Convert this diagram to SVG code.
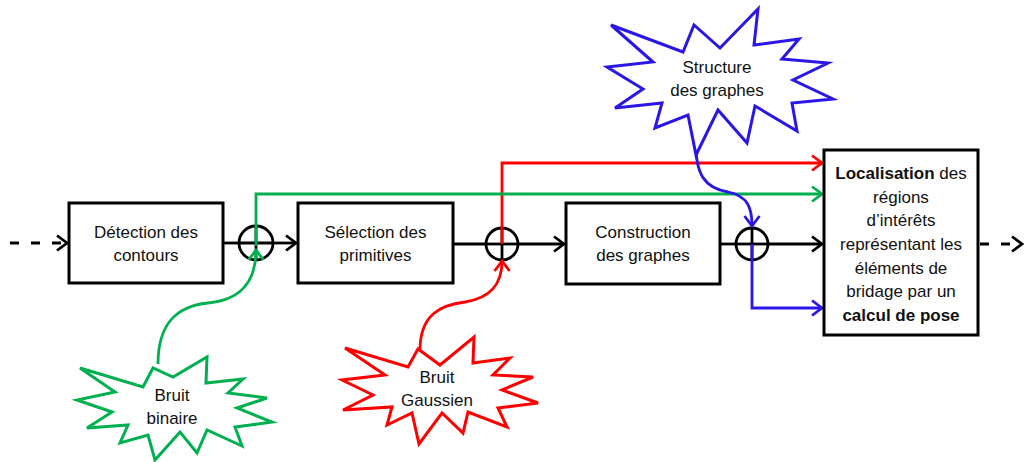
<svg xmlns="http://www.w3.org/2000/svg" width="1027" height="462" viewBox="0 0 1027 462">
<style>
.box{fill:#fff;stroke:#000;stroke-width:3}
.sum{fill:none;stroke:#000;stroke-width:2.8}
.txt{font-family:"Liberation Sans",Arial,sans-serif;font-size:17px;fill:#111;text-anchor:middle}
.blk{fill:none;stroke:#000;stroke-width:2.8}
.red{fill:none;stroke:#ff0000;stroke-width:2.8}
.grn{fill:none;stroke:#00b050;stroke-width:2.8}
.blu{fill:none;stroke:#2a16e6;stroke-width:2.8}
.dash{stroke-dasharray:9 12}
</style>
<defs>
<marker id="ak" markerUnits="userSpaceOnUse" markerWidth="16" markerHeight="18" refX="12" refY="9" orient="auto" viewBox="0 0 16 18"><path d="M2,1.5 L12,9 L2,16.5" fill="none" stroke="#000" stroke-width="2.8"/></marker>
<marker id="ar" markerUnits="userSpaceOnUse" markerWidth="16" markerHeight="18" refX="12" refY="9" orient="auto" viewBox="0 0 16 18"><path d="M2,1.5 L12,9 L2,16.5" fill="none" stroke="#ff0000" stroke-width="2.8"/></marker>
<marker id="ag" markerUnits="userSpaceOnUse" markerWidth="16" markerHeight="18" refX="12" refY="9" orient="auto" viewBox="0 0 16 18"><path d="M2,1.5 L12,9 L2,16.5" fill="none" stroke="#00b050" stroke-width="2.8"/></marker>
<marker id="ab" markerUnits="userSpaceOnUse" markerWidth="16" markerHeight="18" refX="12" refY="9" orient="auto" viewBox="0 0 16 18"><path d="M2,1.5 L12,9 L2,16.5" fill="none" stroke="#2a16e6" stroke-width="2.8"/></marker>
</defs>

<g id="connectors">
<line class="blk dash" x1="10" y1="243" x2="67" y2="243" marker-end="url(#ak)"/>
<line class="blk" x1="223" y1="243" x2="239" y2="243"/>
<line class="blk" x1="273" y1="243" x2="296" y2="243" marker-end="url(#ak)"/>
<line class="blk" x1="453" y1="244" x2="486" y2="244"/>
<line class="blk" x1="518" y1="244" x2="564" y2="244" marker-end="url(#ak)"/>
<line class="blk" x1="720" y1="244" x2="736" y2="244"/>
<line class="blk" x1="768" y1="244" x2="822" y2="244" marker-end="url(#ak)"/>
<line class="blk dash" x1="980" y1="244" x2="1022" y2="244" marker-end="url(#ak)"/>
</g>

<g id="sum1"><circle class="sum" cx="256" cy="243" r="17"/><line class="sum" x1="239" y1="243" x2="273" y2="243"/><line class="sum" x1="256" y1="226" x2="256" y2="260"/></g>
<g id="sum2"><circle class="sum" cx="502" cy="244" r="16"/><line class="sum" x1="486" y1="244" x2="518" y2="244"/><line class="sum" x1="502" y1="228" x2="502" y2="260"/></g>
<g id="sum3"><circle class="sum" cx="752" cy="244" r="16"/><line class="sum" x1="736" y1="244" x2="768" y2="244"/><line class="sum" x1="752" y1="228" x2="752" y2="260"/></g>

<g id="noise-connectors">
<polyline class="red" points="502,244 502,163 822,163" marker-end="url(#ar)"/>
<path class="red" d="M420,350 C420,315 440,305 465,302 C490,298 502,285 502,261" marker-end="url(#ar)"/>
<polyline class="grn" points="256,246 256,194 822,194" marker-end="url(#ag)"/>
<path class="grn" d="M158,364 C158,322 178,306 208,303 C238,300 256,285 256,250" marker-end="url(#ag)"/>
<path class="blu" d="M696,140 C695,175 705,188 728,192 C748,196 752,208 752,226" marker-end="url(#ab)"/>
<polyline class="blu" points="752,244 752,308 822,308" marker-end="url(#ab)"/>
</g>

<g id="detection">
<rect class="box" x="69" y="203" width="154" height="80"/>
<text class="txt" x="146" y="238">Détection des</text>
<text class="txt" x="146" y="261">contours</text>
</g>
<g id="selection">
<rect class="box" x="298" y="203" width="155" height="80"/>
<text class="txt" x="375.5" y="238">Sélection des</text>
<text class="txt" x="375.5" y="261">primitives</text>
</g>
<g id="construction">
<rect class="box" x="566" y="203" width="154" height="81"/>
<text class="txt" x="643" y="238">Construction</text>
<text class="txt" x="643" y="261">des graphes</text>
</g>
<g id="localisation">
<rect class="box" x="824" y="150" width="154" height="185"/>
<text class="txt" x="901" y="179"><tspan font-weight="bold">Localisation</tspan> des</text>
<text class="txt" x="901" y="202.5">régions</text>
<text class="txt" x="901" y="226">d’intérêts</text>
<text class="txt" x="901" y="250">représentant les</text>
<text class="txt" x="901" y="273.5">éléments de</text>
<text class="txt" x="901" y="297">bridage par un</text>
<text class="txt" x="901" y="320.5" font-weight="bold">calcul de pose</text>
</g>

<g id="structure">
<polygon fill="#fff" stroke="#2a16e6" stroke-width="3" stroke-linejoin="miter" points="611,25 683,52 694,25 720,48 758,9 754,45 799,39 782,59 828,63 793,80 833,99 792,103 797,131 755,106 747,143 718,110 696,155 688,115 655,128 662,103 615,108 643,89 607,67 653,62"/>
<text class="txt" x="717" y="73">Structure</text>
<text class="txt" x="717" y="96">des graphes</text>
</g>
<g id="bruit-binaire">
<polygon fill="#fff" stroke="#00b050" stroke-width="3" points="80,368 143,387 153,368 173,377 207,357 206,383 243,379 228,393 267,398 237,408 272,422 235,427 242,446 207,430 197,453 180,432 155,460 148,435 120,443 128,425 87,428 112,412 77,400 115,392"/>
<text class="txt" x="172" y="401">Bruit</text>
<text class="txt" x="172" y="424">binaire</text>
</g>
<g id="bruit-gaussien">
<polygon fill="#fff" stroke="#ff0000" stroke-width="3" points="345,348 408,367 418,349 440,365 474,337 473,363 510,358 493,375 533,377 502,390 538,403 498,408 507,427 468,412 463,433 442,413 419,444 412,413 387,425 392,407 343,410 373,395 342,380 385,375"/>
<text class="txt" x="437" y="383">Bruit</text>
<text class="txt" x="437" y="406">Gaussien</text>
</g>
</svg>
